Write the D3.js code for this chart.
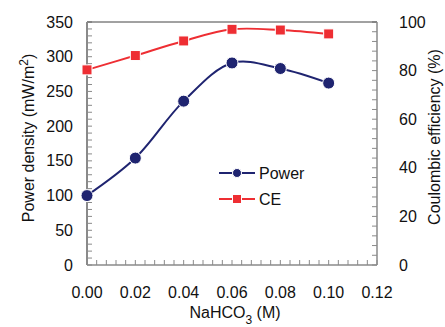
<!DOCTYPE html>
<html>
<head>
<meta charset="utf-8">
<script src="https://cdn.jsdelivr.net/npm/d3@7"></script>
<style>
  body { margin: 0; background: #fff; }
  text { font-family: "Liberation Sans", Arial, sans-serif; fill: #111; }
</style>
</head>
<body>
<svg id="chart" width="445" height="327"></svg>
<script>
// ---------------- Data ----------------
const conc = [0.00, 0.02, 0.04, 0.06, 0.08, 0.10];
const power = [100, 154, 236, 291, 283, 262];
const ce = [80.3, 86.2, 92.2, 97.0, 96.7, 95.1];
const xTicks = [0, 0.02, 0.04, 0.06, 0.08, 0.10, 0.12];
const yLeftTicks = [0, 50, 100, 150, 200, 250, 300, 350];
const yRightTicks = [0, 20, 40, 60, 80, 100];

const svg = d3.select("#chart");
const m = { left: 87, right: 377, top: 22, bottom: 265 };

const x = d3.scaleLinear().domain([0, 0.12]).range([m.left, m.right]);
const yL = d3.scaleLinear().domain([0, 350]).range([m.bottom, m.top]);
const yR = d3.scaleLinear().domain([0, 100]).range([m.bottom, m.top]);

const axisColor = "#8a8a8a";

// minor ticks (inward)
const g = svg.append("g");
g.selectAll(".xt").data(d3.range(0, 0.1201, 0.004)).enter().append("line")
  .attr("x1", d => x(d)).attr("x2", d => x(d))
  .attr("y1", m.bottom).attr("y2", m.bottom - 5)
  .attr("stroke", axisColor).attr("stroke-width", 1);
g.selectAll(".ylt").data(d3.range(0, 351, 10)).enter().append("line")
  .attr("x1", m.left).attr("x2", m.left + 5)
  .attr("y1", d => yL(d)).attr("y2", d => yL(d))
  .attr("stroke", axisColor).attr("stroke-width", 1);
g.selectAll(".yrt").data(d3.range(0, 101, 4)).enter().append("line")
  .attr("x1", m.right).attr("x2", m.right - 5)
  .attr("y1", d => yR(d)).attr("y2", d => yR(d))
  .attr("stroke", axisColor).attr("stroke-width", 1);

// frame
g.append("line").attr("x1", m.left).attr("x2", m.right).attr("y1", m.top).attr("y2", m.top)
  .attr("stroke", "#444").attr("stroke-width", 1);
g.append("line").attr("x1", m.left).attr("x2", m.right).attr("y1", m.bottom).attr("y2", m.bottom)
  .attr("stroke", axisColor).attr("stroke-width", 1.5);
g.append("line").attr("x1", m.left).attr("x2", m.left).attr("y1", m.top).attr("y2", m.bottom)
  .attr("stroke", axisColor).attr("stroke-width", 2);
g.append("line").attr("x1", m.right).attr("x2", m.right).attr("y1", m.top).attr("y2", m.bottom)
  .attr("stroke", axisColor).attr("stroke-width", 1.5);

// tick labels
svg.append("g").selectAll("text").data(xTicks).enter().append("text")
  .attr("x", d => x(d)).attr("y", 298)
  .attr("text-anchor", "middle").attr("font-size", 16)
  .text(d => d.toFixed(2));
svg.append("g").selectAll("text").data(yLeftTicks).enter().append("text")
  .attr("x", 73).attr("y", d => yL(d)).attr("dy", "0.35em")
  .attr("text-anchor", "end").attr("font-size", 16)
  .text(d => d);
svg.append("g").selectAll("text").data(yRightTicks).enter().append("text")
  .attr("x", 399).attr("y", d => yR(d)).attr("dy", "0.35em")
  .attr("text-anchor", "start").attr("font-size", 16)
  .text(d => d);

// axis titles
const xl = svg.append("text").attr("x", 235).attr("y", 318)
  .attr("text-anchor", "middle").attr("font-size", 16);
xl.append("tspan").text("NaHCO");
xl.append("tspan").attr("dy", 6).attr("font-size", 12).text("3");
xl.append("tspan").attr("dy", -6).text(" (M)");

const yl = svg.append("text").attr("transform", "translate(34,138) rotate(-90)")
  .attr("text-anchor", "middle").attr("font-size", 16);
yl.append("tspan").text("Power density (mW/m");
yl.append("tspan").attr("dy", -6).attr("font-size", 12).text("2");
yl.append("tspan").attr("dy", 6).text(")");

svg.append("text").attr("transform", "translate(440,137) rotate(-90)")
  .attr("text-anchor", "middle").attr("font-size", 16)
  .text("Coulombic efficiency (%)");

// series
const navy = "#1f2470";
const red = "#ee2e33";

const powerData = conc.map((c, i) => ({ x: c, y: power[i] }));
const ceData = conc.map((c, i) => ({ x: c, y: ce[i] }));

svg.append("path").datum(ceData)
  .attr("fill", "none").attr("stroke", red).attr("stroke-width", 2)
  .attr("d", d3.line().x(d => x(d.x)).y(d => yR(d.y)).curve(d3.curveCatmullRom));
svg.append("path").datum(powerData)
  .attr("fill", "none").attr("stroke", navy).attr("stroke-width", 2)
  .attr("d", d3.line().x(d => x(d.x)).y(d => yL(d.y)).curve(d3.curveCatmullRom));

svg.append("g").selectAll("rect").data(ceData).enter().append("rect")
  .attr("x", d => x(d.x) - 5).attr("y", d => yR(d.y) - 5)
  .attr("width", 10).attr("height", 10)
  .attr("fill", red).attr("stroke", "#fff").attr("stroke-width", 1);
svg.append("g").selectAll("circle").data(powerData).enter().append("circle")
  .attr("cx", d => x(d.x)).attr("cy", d => yL(d.y)).attr("r", 6)
  .attr("fill", navy).attr("stroke", "#fff").attr("stroke-width", 1);

// legend
const leg = svg.append("g");
leg.append("line").attr("x1", 219).attr("x2", 255).attr("y1", 173).attr("y2", 173)
  .attr("stroke", navy).attr("stroke-width", 2);
leg.append("circle").attr("cx", 237).attr("cy", 173).attr("r", 4.5)
  .attr("fill", navy).attr("stroke", "#fff").attr("stroke-width", 1);
leg.append("text").attr("x", 259).attr("y", 173).attr("dy", "0.35em")
  .attr("font-size", 16).text("Power");
leg.append("line").attr("x1", 219).attr("x2", 255).attr("y1", 199).attr("y2", 199)
  .attr("stroke", red).attr("stroke-width", 2);
leg.append("rect").attr("x", 232.5).attr("y", 194.5).attr("width", 9).attr("height", 9)
  .attr("fill", red).attr("stroke", "#fff").attr("stroke-width", 1);
leg.append("text").attr("x", 259).attr("y", 199).attr("dy", "0.35em")
  .attr("font-size", 16).text("CE");
</script>
</body>
</html>
